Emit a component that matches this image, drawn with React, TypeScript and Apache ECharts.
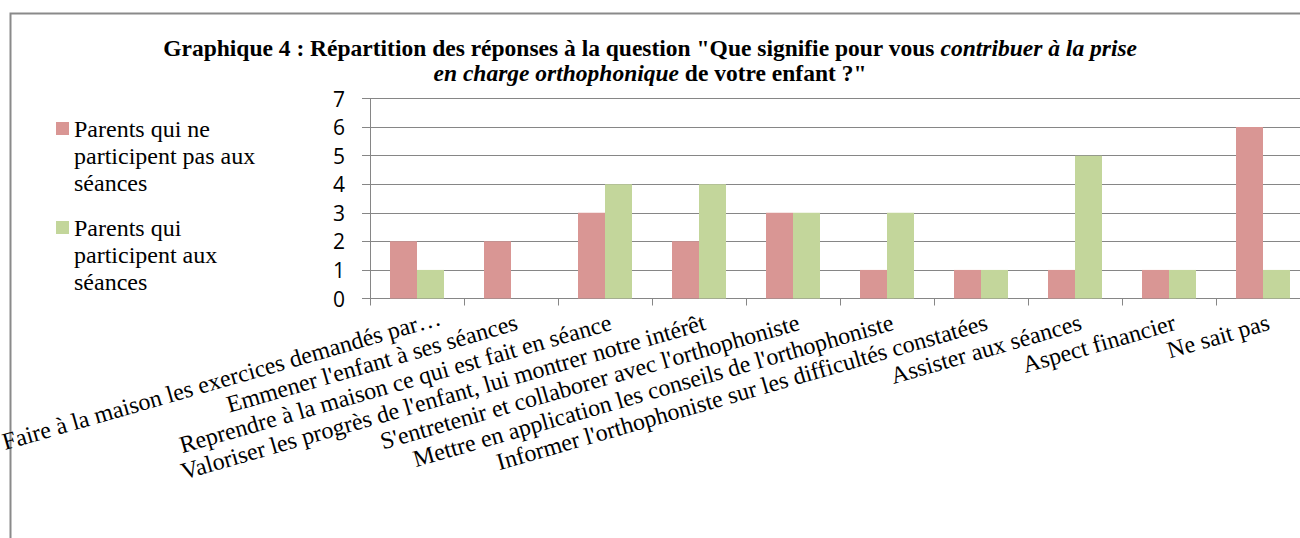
import React, { useEffect, useRef } from "react";
import * as echarts from "echarts";

const categories = [
  "Faire à la maison les exercices demandés par…",
  "Emmener l'enfant à ses séances",
  "Reprendre à la maison ce qui est fait en séance",
  "Valoriser les progrès de l'enfant, lui montrer notre intérêt",
  "S'entretenir et collaborer avec l'orthophoniste",
  "Mettre en application les conseils de l'orthophoniste",
  "Informer l'orthophoniste sur les difficultés constatées",
  "Assister aux séances",
  "Aspect financier",
  "Ne sait pas",
];

const seriesNames = [
  "Parents qui ne participent pas aux séances",
  "Parents qui participent aux séances",
];
const legendLines = [
  ["Parents qui ne", "participent pas aux", "séances"],
  ["Parents qui", "participent aux", "séances"],
];

const nonParticipants = [2, 2, 3, 2, 3, 1, 1, 1, 1, 6];
const participants = [1, 0, 4, 4, 3, 3, 1, 5, 1, 1];

const yTicks = [0, 1, 2, 3, 4, 5, 6, 7];

const SERIF = "Liberation Serif";
const SANS = "Open Sans";
const GRID_COLOR = "#868686";
const COLORS = ["#D99694", "#C3D69B"];

export default function App() {
  const ref = useRef<HTMLDivElement>(null);

  useEffect(() => {
    if (!ref.current) return;
    const chart = echarts.init(ref.current, null, { renderer: "svg" });
    const legendText = (i: number) => ({
      data: [seriesNames[i]],
      orient: "vertical",
      left: 56,
      top: i === 0 ? 61 : 160,
      padding: 0,
      itemWidth: 13,
      itemHeight: 13,
      icon: "rect",
      selectedMode: false,
      formatter: () =>
        "\n\n" + legendLines[i].map((l) => "{t|" + l + "}").join("\n"),
      textStyle: {
        fontFamily: SERIF,
        fontSize: 24,
        lineHeight: 27,
        color: "#000",
        rich: {
          t: {
            fontFamily: SERIF,
            fontSize: 24,
            lineHeight: 27,
            color: "#000",
          },
        },
      },
    });

    chart.setOption({
      animation: false,
      backgroundColor: "#fff",
      title: {
        left: "center",
        top: 35,
        padding: 0,
        text:
          '{b|Graphique 4 : Répartition des réponses à la question "Que signifie pour vous }{bi|contribuer à la prise}\n{bi|en charge orthophonique}{b| de votre enfant ?"}',
        textStyle: {
          rich: {
            b: {
              fontFamily: SERIF,
              fontSize: 23.5,
              fontWeight: "bold",
              lineHeight: 25,
              color: "#000",
            },
            bi: {
              fontFamily: SERIF,
              fontSize: 23.5,
              fontWeight: "bold",
              fontStyle: "italic",
              lineHeight: 25,
              color: "#000",
            },
          },
        },
      },
      legend: [legendText(0), legendText(1)],
      graphic: [
        {
          type: "rect",
          left: 8,
          top: 11,
          shape: { x: 0, y: 0, width: 1400, height: 700 },
          style: { fill: "none", stroke: "#8a8a8a", lineWidth: 2 },
          silent: true,
          z: -10,
        },
      ],
      grid: {
        left: 370,
        top: 98.5,
        width: 940,
        height: 200,
        containLabel: false,
        outerBoundsMode: "none",
      },
      xAxis: {
        type: "category",
        data: categories,
        axisLine: { show: true, lineStyle: { color: GRID_COLOR, width: 1 } },
        axisTick: {
          show: true,
          length: 7,
          alignWithLabel: false,
          lineStyle: { color: GRID_COLOR },
        },
        axisLabel: {
          interval: 0,
          rotate: 16,
          margin: 25,
          hideOverlap: false,
          fontFamily: SERIF,
          fontSize: 24,
          color: "#000",
          formatter: (v: string, i: number) =>
            (i === 0 ? "{f|" : "{c|") + v + "}",
          rich: {
            c: {
              fontFamily: SERIF,
              fontSize: 24,
              color: "#000",
              padding: [0, -6, 0, 0],
            },
            f: {
              fontFamily: SERIF,
              fontSize: 24,
              color: "#000",
              padding: [0, -24, 0, 0],
            },
          },
        },
      },
      yAxis: {
        type: "value",
        min: 0,
        max: 7,
        interval: 1,
        axisLine: { show: true, lineStyle: { color: GRID_COLOR, width: 1 } },
        axisTick: {
          show: true,
          length: 8,
          inside: false,
          lineStyle: { color: GRID_COLOR },
        },
        splitLine: { show: true, lineStyle: { color: GRID_COLOR, width: 1 } },
        axisLabel: {
          margin: 25,
          fontFamily: SANS,
          fontSize: 21,
          color: "#000",
          formatter: (v: number) =>
            yTicks.includes(v) ? "{n|" + String(v) + "}" : "",
          rich: {
            n: { fontFamily: SANS, fontSize: 21, color: "#000" },
          },
        },
      },
      series: [
        {
          name: seriesNames[0],
          type: "bar",
          data: nonParticipants,
          barWidth: 27,
          barGap: "0%",
          itemStyle: { color: COLORS[0] },
        },
        {
          name: seriesNames[1],
          type: "bar",
          data: participants,
          barWidth: 27,
          barGap: "0%",
          itemStyle: { color: COLORS[1] },
        },
      ],
    });
    return () => chart.dispose();
  }, []);

  return (
    <div
      ref={ref}
      style={{
        position: "fixed",
        left: 0,
        top: 0,
        width: 1300,
        height: 538,
        background: "#fff",
      }}
    />
  );
}
